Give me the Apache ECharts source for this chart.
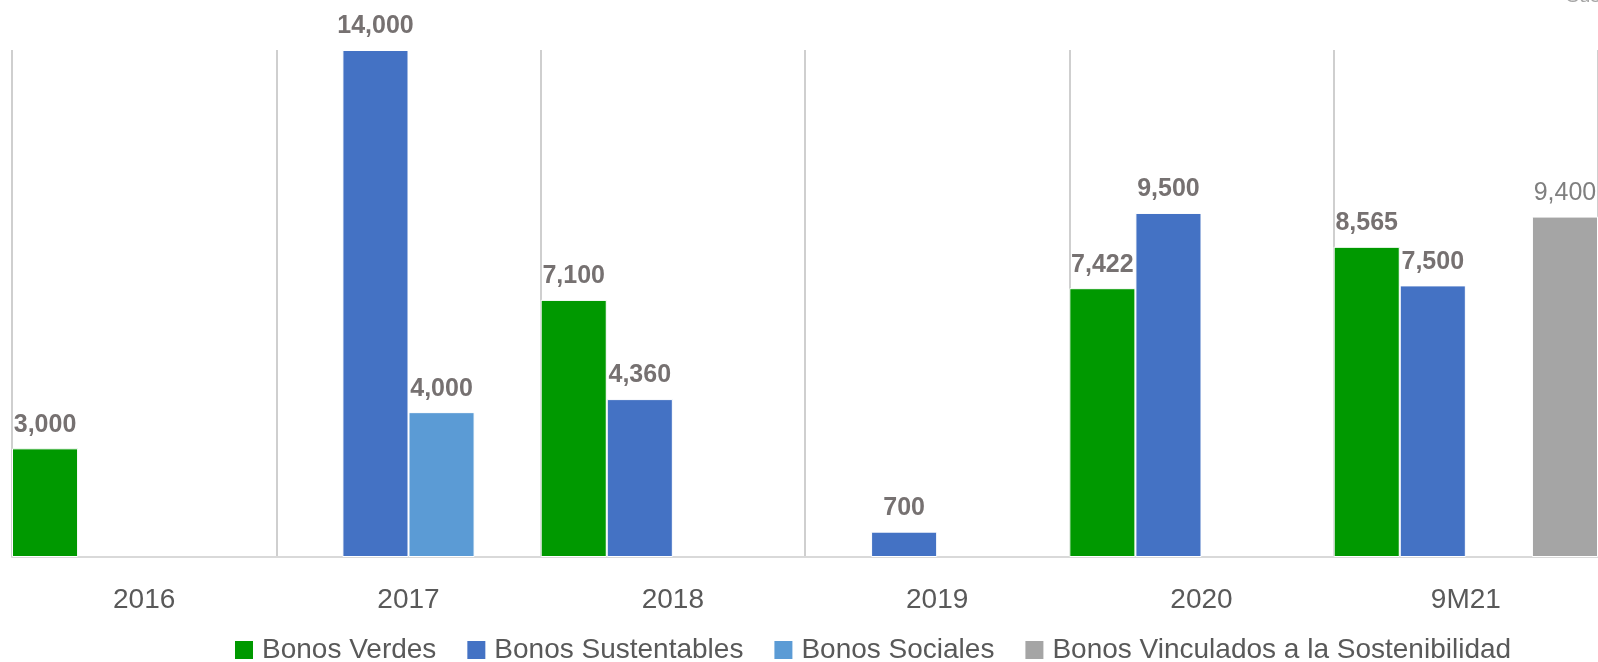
<!DOCTYPE html>
<html>
<head>
<meta charset="utf-8">
<script src="https://cdn.jsdelivr.net/npm/echarts@6/dist/echarts.min.js"></script>
<style>
    html, body { margin: 0; padding: 0; background: #fff; }
    #bonos { width: 1598px; height: 662px; }
</style>
</head>
<body>
<div id="bonos"></div>
<script>
// categories and values
var years = ['2016', '2017', '2018', '2019', '2020', '9M21'];
var seriesNames = ['Bonos Verdes', 'Bonos Sustentables', 'Bonos Sociales', 'Bonos Vinculados a la Sostenibilidad'];
var verdes = [3000, null, 7100, null, 7422, 8565];
var sustentables = [null, 14000, 4360, 700, 9500, 7500];
var sociales = [null, 4000, null, null, null, null];
var vinculados = [null, null, null, null, null, 9400];

var colors = ['#009900', '#4472C4', '#5B9BD5', '#A5A5A5'];

function fmtLabel(p) {
    if (p.value == null) return '';
    return p.value.toLocaleString('en-US');
}

function boldLabel() {
    return {
        show: true,
        position: 'top',
        distance: 11,
        formatter: fmtLabel,
        fontFamily: 'Liberation Sans, Arial, sans-serif',
        fontSize: 25,
        fontWeight: 'bold',
        color: '#767171'
    };
}

function makeBar(name, data, label) {
    return {
        name: name,
        type: 'bar',
        data: data,
        barGap: '0%',
        barCategoryGap: '0%',
        itemStyle: { borderColor: '#ffffff', borderWidth: 1 },
        label: label
    };
}

var chart1 = echarts.init(document.getElementById('bonos'));

var chart1Options = {
    color: colors,
    animation: false,
    textStyle: { fontFamily: 'Liberation Sans, Arial, sans-serif' },
    grid: { left: 12, right: 0, top: 50, bottom: 105 },
    legend: {
        left: 230,
        top: 631,
        itemWidth: 18,
        itemHeight: 18,
        itemGap: 31,
        icon: 'rect',
        itemStyle: { borderWidth: 0 },
        textStyle: { fontSize: 28, color: '#595959', padding: [0, 0, 0, 4] },
        data: seriesNames
    },
    graphic: [{
        // clipped text at the upper right corner
        type: 'text',
        left: 1566,
        top: -14,
        style: { text: 'Sustentables', fontSize: 20, fill: '#a6a6a6', fontFamily: 'Liberation Sans, Arial, sans-serif' }
    }],
    xAxis: {
        type: 'category',
        data: years,
        axisTick: { show: false },
        axisLine: { lineStyle: { color: '#d9d9d9', width: 2 } },
        axisLabel: { fontSize: 28, color: '#595959', margin: 29 },
        splitLine: { show: true, lineStyle: { color: '#bfbfbf', width: 1.5 } }
    },
    yAxis: {
        type: 'value',
        min: 0,
        max: 14000,
        show: false,
        splitLine: { show: false }
    },
    series: [
        makeBar(seriesNames[0], verdes, boldLabel()),
        makeBar(seriesNames[1], sustentables, boldLabel()),
        makeBar(seriesNames[2], sociales, boldLabel()),
        makeBar(seriesNames[3], vinculados, {
            show: true,
            position: 'top',
            distance: 11,
            formatter: fmtLabel,
            fontSize: 25,
            color: '#7f7f7f'
        })
    ]
};

chart1.setOption(chart1Options);
</script>
</body>
</html>
